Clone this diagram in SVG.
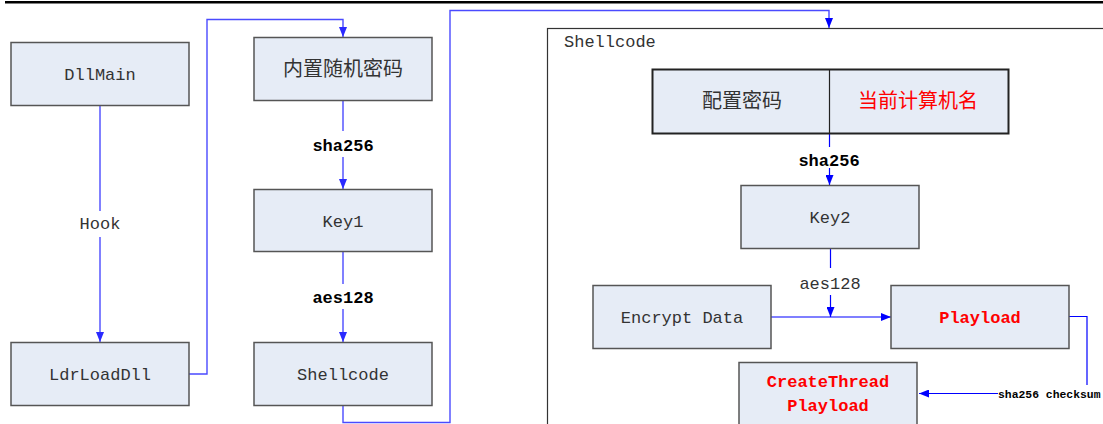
<svg xmlns="http://www.w3.org/2000/svg" width="1103" height="424" viewBox="0 0 1103 424">
<defs>
<marker id="arr" viewBox="0 0 10 8" refX="10" refY="4" markerWidth="10" markerHeight="8" markerUnits="userSpaceOnUse" orient="auto">
<path d="M0,0 L10,4 L0,8 z" fill="#0000ff"/>
</marker>
<marker id="arrL" viewBox="0 0 10 8" refX="10" refY="4" markerWidth="10" markerHeight="8" markerUnits="userSpaceOnUse" orient="auto">
<path d="M0,0 L10,4 L0,8 z" fill="#2a2aff"/>
</marker>
</defs>
<style>
.box{fill:#e6ecf6;stroke:#555;stroke-width:1.5}
.t{font-family:"Liberation Mono","DejaVu Sans Mono",monospace;font-size:17px;fill:#333;text-anchor:middle}
.cjk{font-family:"Noto Sans CJK SC",sans-serif;font-size:20px;fill:#333;text-anchor:middle}
.lb{font-family:"Liberation Mono","DejaVu Sans Mono",monospace;font-size:17px;font-weight:bold;fill:#000;text-anchor:middle}
.red{fill:#ff0000}
.cl{fill:none;stroke:#4a4aff;stroke-width:1.4}
.cr{fill:none;stroke:#0000ff;stroke-width:1.2}
</style>
<rect width="1103" height="424" fill="#fff"/>
<line x1="5" y1="2.2" x2="1103" y2="2.2" stroke="#000" stroke-width="2.5"/>

<g id="container">
<rect x="547.5" y="28.5" width="600" height="450" fill="none" stroke="#333" stroke-width="1.2"/>
<text x="564" y="47" class="t" style="text-anchor:start">Shellcode</text>
</g>

<g id="connectors">
<path class="cl" d="M100,105 V211"/>
<path class="cl" d="M100,237 V342" marker-end="url(#arrL)"/>
<text x="100" y="229" class="t">Hook</text>
<path class="cl" d="M189,374 H207 V19.5 H343 V37" marker-end="url(#arrL)"/>
<path class="cl" d="M343,100 V131"/>
<path class="cl" d="M343,157 V189" marker-end="url(#arrL)"/>
<text x="343" y="151" class="lb">sha256</text>
<path class="cl" d="M343,251 V284"/>
<path class="cl" d="M343,309 V342" marker-end="url(#arrL)"/>
<text x="343" y="303" class="lb">aes128</text>
<path class="cl" d="M343,405 V422.5 H450 V10.5 H829 V28" marker-end="url(#arr)"/>
<path class="cr" d="M829.5,133 V147"/>
<path class="cr" d="M829.5,168 V185" marker-end="url(#arr)"/>
<text x="829" y="166" class="lb">sha256</text>
<path class="cr" d="M830.5,248 V268"/>
<path class="cr" d="M830.5,295 V317" marker-end="url(#arr)"/>
<text x="830" y="289" class="t">aes128</text>
<path class="cr" d="M771,317 H891" marker-end="url(#arr)"/>
<path class="cr" d="M1069,316.5 H1087 V385"/>
<path class="cr" d="M998,393.5 H919" marker-end="url(#arr)"/>
<text x="998" y="397.5" class="lb" style="text-anchor:start;font-size:11.4px">sha256 checksum</text>
</g>

<g id="dllmain">
<rect class="box" x="11" y="42.5" width="178" height="63"/>
<text x="100" y="80" class="t">DllMain</text>
</g>
<g id="ldrloaddll">
<rect class="box" x="11" y="342.5" width="178" height="63"/>
<text x="100" y="380" class="t">LdrLoadDll</text>
</g>
<g id="builtin-pwd">
<rect class="box" x="254" y="37.5" width="178" height="63"/>
<text x="343" y="76" class="cjk">内置随机密码</text>
</g>
<g id="key1">
<rect class="box" x="254" y="189.5" width="178" height="62"/>
<text x="343" y="227" class="t">Key1</text>
</g>
<g id="shellcode">
<rect class="box" x="254" y="342.5" width="178" height="63"/>
<text x="343" y="380" class="t">Shellcode</text>
</g>
<g id="config">
<rect x="652.5" y="69.5" width="356" height="64" fill="#e6ecf6" stroke="#222" stroke-width="2"/>
<line x1="829.5" y1="69.5" x2="829.5" y2="133.5" stroke="#222" stroke-width="1.2"/>
<text x="742" y="108" class="cjk">配置密码</text>
<text x="918" y="108" class="cjk red">当前计算机名</text>
</g>
<g id="key2">
<rect class="box" x="741" y="185.5" width="178" height="63"/>
<text x="830" y="223" class="t">Key2</text>
</g>
<g id="encrypt">
<rect class="box" x="593" y="285.5" width="178" height="63"/>
<text x="682" y="323" class="t">Encrypt Data</text>
</g>
<g id="playload">
<rect class="box" x="891" y="285.5" width="178" height="63"/>
<text x="980" y="323" class="lb red">Playload</text>
</g>
<g id="createthread">
<rect class="box" x="739" y="362.5" width="178" height="80"/>
<text x="828" y="387" class="lb red">CreateThread</text>
<text x="828" y="411" class="lb red">Playload</text>
</g>
</svg>
